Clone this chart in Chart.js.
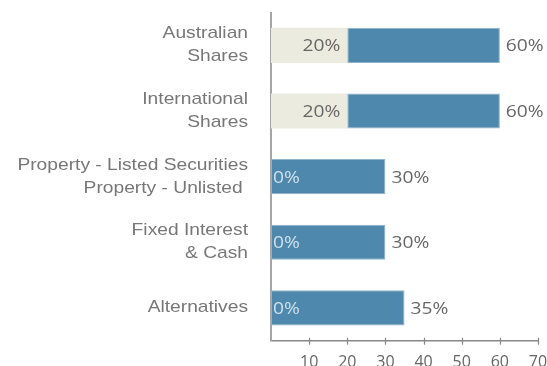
<!DOCTYPE html>
<html>
<head>
<meta charset="utf-8">
<script src="https://cdn.jsdelivr.net/npm/chart.js@4"></script>
<style>
  html, body { margin: 0; padding: 0; background: #fff; overflow: hidden; }
  #wrap { width: 547px; height: 366px; }
</style>
</head>
<body>
<div id="wrap"><canvas id="rangeChart" width="547" height="366"></canvas></div>
<script>
// asset classes and their allocation ranges (%)
const categories = [
  ['Australian', 'Shares'],
  ['International', 'Shares'],
  ['Property - Listed Securities', 'Property - Unlisted '],
  ['Fixed Interest', '& Cash'],
  ['Alternatives']
];
const minValues = [20, 20, 0, 0, 0];
const maxValues = [60, 60, 30, 30, 35];
const xTicks = [10, 20, 30, 40, 50, 60, 70];

const valueFont = '"Open Sans", sans-serif';
const labelFont = '"Liberation Sans", Arial, sans-serif';
const WIDEN = 1.13; // text in this chart is drawn slightly wide

function wideText(ctx, text, x, y, align) {
  ctx.save();
  ctx.translate(x, y);
  ctx.scale(WIDEN, 1);
  ctx.textAlign = align;
  ctx.fillText(text, 0, 0);
  ctx.restore();
}

// category names, percent labels at each end of the range, cross ticks on x axis
const rangeLabels = {
  id: 'rangeLabels',
  afterDatasetsDraw(chart) {
    const ctx = chart.ctx;
    const xs = chart.scales.x, ys = chart.scales.y;
    const left = chart.chartArea.left;
    ctx.save();
    ctx.textBaseline = 'alphabetic';

    ctx.font = '17px ' + labelFont;
    ctx.fillStyle = '#777';
    categories.forEach((lines, i) => {
      const yc = ys.getPixelForValue(i);
      const first = yc - (lines.length - 1) * 23 / 2 + 4.5;
      lines.forEach((t, k) => wideText(ctx, t, left - 23, first + k * 23, 'right'));
    });

    ctx.font = '17px ' + valueFont;
    for (let i = 0; i < categories.length; i++) {
      const y = ys.getPixelForValue(i) + 6;
      const xMin = xs.getPixelForValue(minValues[i]);
      const xMax = xs.getPixelForValue(maxValues[i]);
      if (minValues[i] > 0) {
        ctx.fillStyle = '#666';
        wideText(ctx, minValues[i] + '%', xMin - 7, y, 'right');
      } else {
        ctx.fillStyle = '#cfe1ec';
        wideText(ctx, minValues[i] + '%', xMin + 2, y, 'left');
      }
      ctx.fillStyle = '#666';
      wideText(ctx, maxValues[i] + '%', xMax + 6, y, 'left');
    }

    ctx.strokeStyle = '#888';
    ctx.lineWidth = 1.2;
    const yb = chart.chartArea.bottom;
    xTicks.forEach(v => {
      const x = Math.round(xs.getPixelForValue(v)) + 0.5;
      ctx.beginPath();
      ctx.moveTo(x, yb - 3);
      ctx.lineTo(x, yb + 4);
      ctx.stroke();
    });
    ctx.restore();
  }
};

new Chart(document.getElementById('rangeChart'), {
  type: 'bar',
  data: {
    labels: categories,
    datasets: [
      {
        label: 'Min',
        data: minValues.map(v => [0, v]),
        backgroundColor: '#ecebdf',
        borderWidth: 0,
        grouped: false,
        order: 2
      },
      {
        label: 'Range',
        data: minValues.map((v, i) => [v, maxValues[i]]),
        backgroundColor: '#4e88ac',
        borderColor: '#8eb3ca',
        borderWidth: 1,
        borderSkipped: false,
        grouped: false,
        order: 1
      }
    ]
  },
  options: {
    indexAxis: 'y',
    responsive: false,
    animation: false,
    layout: { padding: { top: 12.5, right: 9, left: 0, bottom: 0 } },
    plugins: {
      legend: { display: false },
      tooltip: { enabled: false }
    },
    datasets: {
      bar: { categoryPercentage: 1, barPercentage: 0.535 }
    },
    scales: {
      x: {
        min: 0,
        max: 70,
        grid: { display: false, drawTicks: false },
        border: { display: true, color: '#888', width: 1.5 },
        afterBuildTicks(scale) {
          scale.ticks = [0].concat(xTicks).map(v => ({ value: v }));
        },
        afterFit(scale) {
          scale.height = 25.3;
          scale.paddingLeft = 0;
          scale.paddingRight = 0;
        },
        ticks: {
          padding: 12,
          color: '#666',
          font: { family: valueFont, size: 16 },
          callback: v => (v === 0 ? '' : v)
        }
      },
      y: {
        grid: { display: false, drawTicks: false },
        border: { display: true, color: '#a5a5a5', width: 2 },
        ticks: { display: false },
        afterFit(scale) {
          scale.width = 271;
          scale.paddingTop = 0;
          scale.paddingBottom = 0;
        }
      }
    }
  },
  plugins: [rangeLabels]
});
</script>
</body>
</html>
